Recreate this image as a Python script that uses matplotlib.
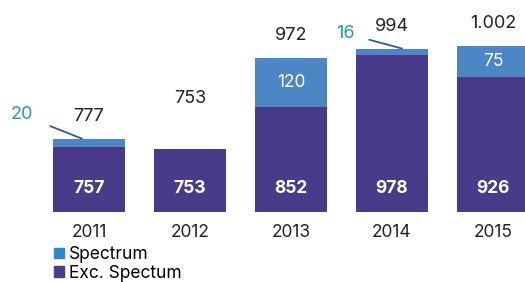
import matplotlib.pyplot as plt
from matplotlib.patches import Patch

plt.rcParams["font.family"] = ["Inter", "DejaVu Sans"]

# Data
years = ["2011", "2012", "2013", "2014", "2015"]
exc_spectrum = [757, 753, 852, 978, 926]
spectrum = [20, 0, 120, 16, 75]
totals = ["777", "753", "972", "994", "1.002"]

dark = "#4a3a8a"
light = "#4d86c4"
blue_txt = "#2a90d0"
base = 600

fig = plt.figure(figsize=(5.25, 2.82), dpi=100)
ax = fig.add_axes([0, 0.248, 1, 0.752])
ax.set_xlim(-0.881, 4.317)
ax.set_ylim(base, 1111)
ax.axis("off")

x = range(len(years))
w = 0.713
ax.bar(x, [v - base for v in exc_spectrum], bottom=base, width=w, color=dark)
ax.bar(x, spectrum, bottom=exc_spectrum, width=w, color=light)

for i in x:
    top = exc_spectrum[i] + spectrum[i]
    # total above the bar (2012 sits higher in the original)
    off = 36 if years[i] == "2012" else 16
    ax.annotate(totals[i], (i, top), xytext=(0, off), textcoords="offset points",
                ha="center", va="center", fontsize=13, color="#222222")
    # value inside the dark segment, near the base
    ax.annotate(str(exc_spectrum[i]), (i, base), xytext=(0, 17), textcoords="offset points",
                ha="center", va="center", fontsize=12.5, color="white", fontweight="bold")
    # year label
    ax.annotate(years[i], (i, base), xytext=(0, -14.5), textcoords="offset points",
                ha="center", va="center", fontsize=12.5, color="#222222", annotation_clip=False)
    if spectrum[i] >= 50:
        ax.text(i, exc_spectrum[i] + spectrum[i] / 2, str(spectrum[i]), ha="center",
                va="center", fontsize=12.5, color="white")

# small Spectrum values with leader lines
ax.annotate(str(spectrum[0]), xy=(-0.07, exc_spectrum[0] + spectrum[0]),
            xytext=(-43, 17), textcoords="offset points", ha="center", va="center",
            fontsize=13, color=blue_txt, annotation_clip=False,
            arrowprops=dict(arrowstyle="-", color="#2a5f95", lw=1.3, shrinkA=11, shrinkB=0))
ax.annotate(str(spectrum[3]), xy=(3.1, exc_spectrum[3] + spectrum[3]),
            xytext=(-41, 11), textcoords="offset points", ha="center", va="center",
            fontsize=13, color=blue_txt,
            arrowprops=dict(arrowstyle="-", color="#2a5f95", lw=1.3, shrinkA=9, shrinkB=0))

handles = [Patch(color="#2f86c8", label="Spectrum"), Patch(color=dark, label="Exc. Spectum")]
fig.legend(handles=handles, loc="upper left", bbox_to_anchor=(54 / 525, 1 - 246 / 282),
           frameon=False, fontsize=12.5, handlelength=0.55, handleheight=0.55,
           handletextpad=0.3, labelspacing=0.1, borderpad=0, borderaxespad=0)

fig.savefig("out.png", dpi=100)
